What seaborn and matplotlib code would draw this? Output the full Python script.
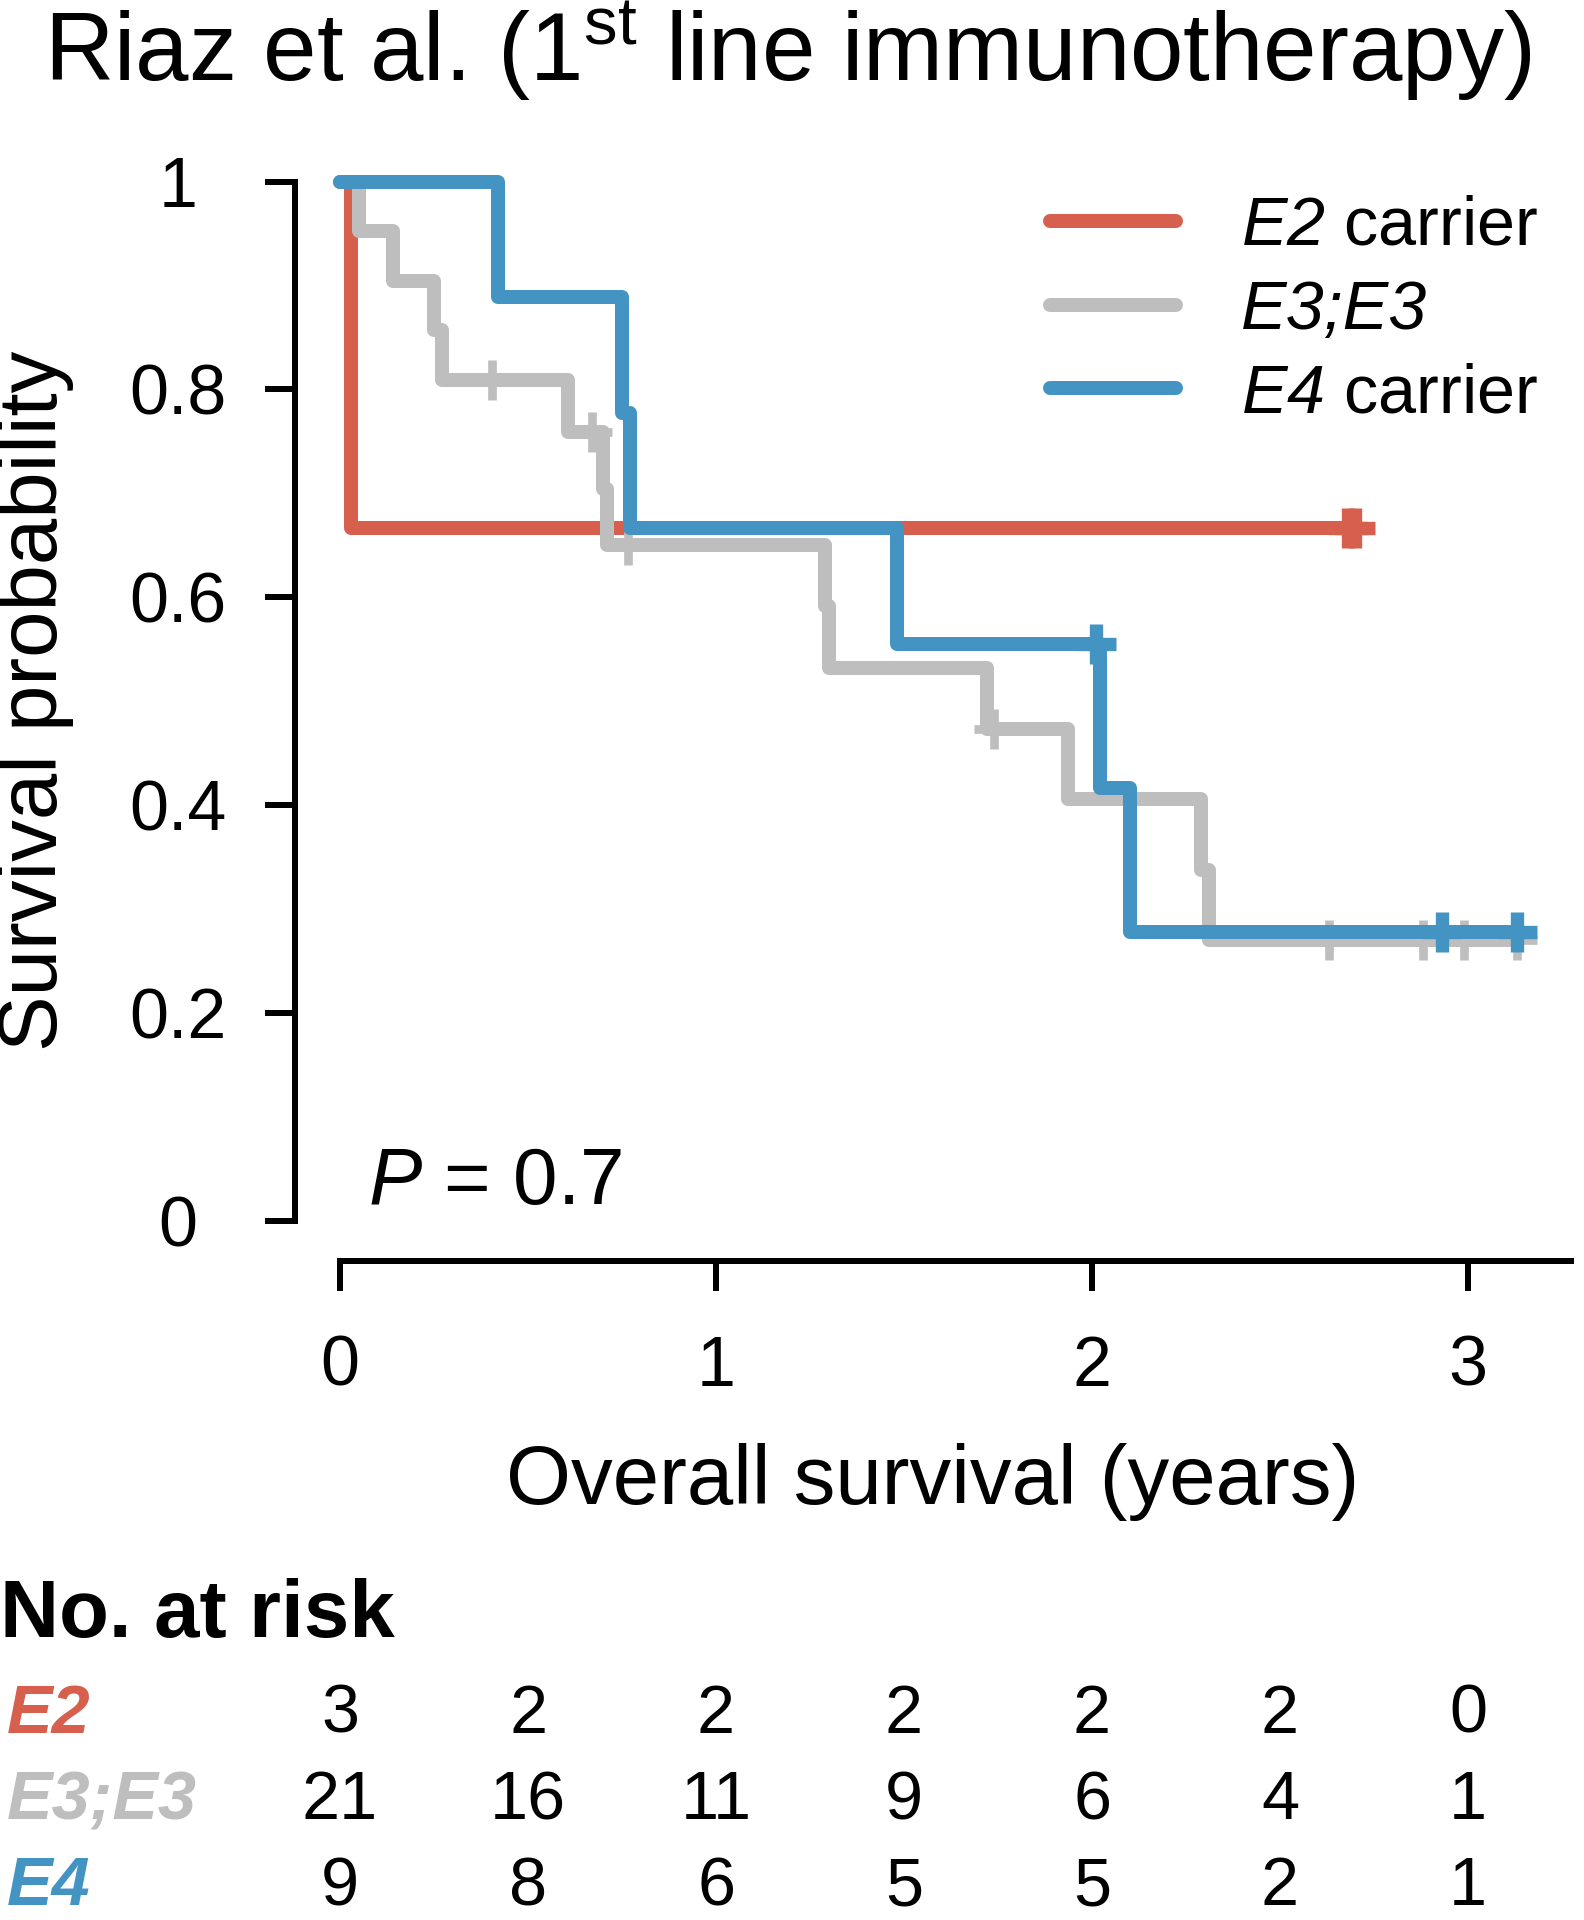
import numpy as np
import pandas as pd
import matplotlib
matplotlib.use("Agg")
import matplotlib.pyplot as plt
import matplotlib.transforms as mtransforms
import seaborn as sns

# Follow-up times (years) and events (1 = death, 0 = censored)
e2_time = [0.03, 2.68, 2.70]
e2_event = [1, 0, 0]
e33_time = [0.05, 0.14, 0.25, 0.27, 0.405, 0.605, 0.67, 0.70, 0.71, 0.765, 1.29,
            1.30, 1.72, 1.74, 1.935, 2.29, 2.31, 2.63, 2.88, 2.99, 3.13]
e33_event = [1, 1, 1, 1, 0, 1, 0, 1, 1, 0, 1, 1, 1, 0, 1, 1, 1, 0, 0, 0, 0]
e4_time = [0.42, 0.75, 0.77, 1.48, 2.01, 2.02, 2.10, 2.93, 3.13]
e4_event = [1, 1, 1, 1, 0, 1, 1, 0, 0]

group_names = ["E2", "E3;E3", "E4"]
legend_labels = [r"$\mathit{E2}$ carrier", "E3;E3", r"$\mathit{E4}$ carrier"]
colors = ["#D6604D", "#BEBEBE", "#4393C3"]

# Number at risk table
risk_times = [0, 0.5, 1, 1.5, 2, 2.5, 3]
risk_e2 = [3, 2, 2, 2, 2, 2, 0]
risk_e33 = [21, 16, 11, 9, 6, 4, 1]
risk_e4 = [9, 8, 6, 5, 5, 2, 1]

x_ticks = [0, 1, 2, 3]
y_ticks = [0, 0.2, 0.4, 0.6, 0.8, 1]
y_ticklabels = ["0", "0.2", "0.4", "0.6", "0.8", "1"]


def km_curve(times, events):
    df = pd.DataFrame({"time": times, "event": events}).sort_values("time")
    at_risk = len(df)
    surv = 1.0
    xs, ys = [0.0], [1.0]
    for t, grp in df.groupby("time"):
        d = grp["event"].sum()
        if d > 0:
            surv *= (at_risk - d) / at_risk
            xs.append(t)
            ys.append(surv)
        at_risk -= len(grp)
    xs.append(df["time"].max())
    ys.append(surv)
    cens = df.loc[df["event"] == 0, "time"].values
    idx = np.searchsorted(xs, cens, side="right") - 1
    return np.array(xs), np.array(ys), cens, np.array(ys)[idx]


sns.set_style("ticks")
plt.rcParams["font.family"] = ["Liberation Sans", "DejaVu Sans"]
# math text is only used for italic pieces (digits fall back to rm, so rm is italic too)
plt.rcParams["mathtext.fontset"] = "custom"
plt.rcParams["mathtext.rm"] = "Liberation Sans:italic"
plt.rcParams["mathtext.it"] = "Liberation Sans:italic"
plt.rcParams["mathtext.sf"] = "Liberation Sans"
plt.rcParams["mathtext.bf"] = "Liberation Sans:bold"
plt.rcParams["text.color"] = "black"
plt.rcParams["axes.labelcolor"] = "black"
plt.rcParams["axes.edgecolor"] = "black"

fig = plt.figure(figsize=(6.6, 8.0), dpi=240)
ax = fig.add_axes([0.186, 0.343, 0.806, 0.5624])

groups = [(e2_time, e2_event), (e33_time, e33_event), (e4_time, e4_event)]
mark_w = [4.0, 2.6, 4.0]
for (t, e), lab, col, mw in zip(groups, legend_labels, colors, mark_w):
    xs, ys, xc, yc = km_curve(t, e)
    sns.lineplot(x=xs, y=ys, drawstyle="steps-post", estimator=None, sort=False,
                 color=col, linewidth=4.2, label=lab, ax=ax, clip_on=False,
                 solid_capstyle="round", solid_joinstyle="round")
    ax.plot(xc, yc, linestyle="none", marker="+", markersize=12, markeredgewidth=mw,
            color=col, clip_on=False)

ax.set_xlim(-0.121, 3.275)
ax.set_ylim(-0.039, 1.0)
ax.set_xticks(x_ticks)
ax.set_xticklabels([str(v) for v in x_ticks])
ax.set_yticks(y_ticks)
ax.set_yticklabels(y_ticklabels, ha="center")
sns.despine(ax=ax)
ax.spines["left"].set_bounds(0, 1)
ax.spines["bottom"].set_bounds(0, 3.275)
for s in ["left", "bottom"]:
    ax.spines[s].set_linewidth(1.8)
ax.tick_params(axis="both", direction="out", length=9, width=1.8, labelsize=21,
               colors="black")
ax.tick_params(axis="x", pad=13)
ax.tick_params(axis="y", pad=26)

ax.set_xlabel("Overall survival (years)", fontsize=25)
ax.xaxis.set_label_coords(0.5, -0.204)
ax.xaxis.label.set_va("center")
ax.set_ylabel("Survival probability", fontsize=25)
ax.yaxis.set_label_coords(-0.203, 0.519)
ax.yaxis.label.set_va("center")

leg = ax.legend(loc="upper right", bbox_to_anchor=(0.971, 0.8986),
                bbox_transform=fig.transFigure, frameon=False, fontsize=20.5,
                handlelength=1.85, handletextpad=0.95, labelspacing=0.29,
                borderpad=0, borderaxespad=0)
leg.get_texts()[1].set_fontstyle("italic")
for h in leg.get_lines():
    h.set_linewidth(4.2)

fig.text(0.497, 0.958, r"Riaz et al. (1$^{\mathsf{st}}$ line immunotherapy)",
         ha="center", va="baseline", fontsize=28.8)
fig.text(0.2326, 0.373, r"$\mathit{P}$ = 0.7", ha="left", va="baseline", fontsize=24)

# number at risk table
fig.text(0.0, 0.1473, "No. at risk", ha="left", va="baseline", fontsize=24.5,
         fontweight="bold")
trans = mtransforms.blended_transform_factory(ax.transData, fig.transFigure)
row_y = [0.0976, 0.0525, 0.0078]
for name, counts, col, y in zip(group_names, [risk_e2, risk_e33, risk_e4], colors, row_y):
    fig.text(0.004, y, name, ha="left", va="baseline", fontsize=20.5,
             fontweight="bold", fontstyle="italic", color=col)
    for t, n in zip(risk_times, counts):
        ax.text(t, y, str(n), transform=trans, ha="center", va="baseline",
                fontsize=20.5, clip_on=False)

fig.savefig("out.png", dpi=240)
